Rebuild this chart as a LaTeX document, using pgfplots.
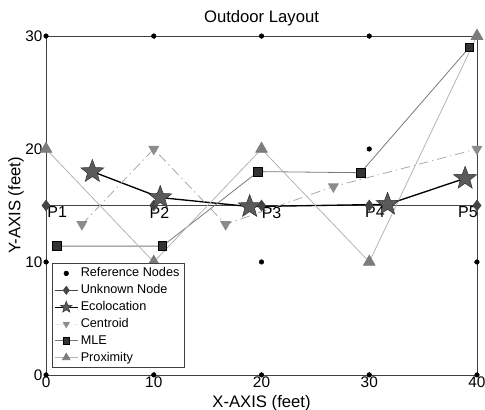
\documentclass[border=0pt]{standalone}
\usepackage{fontspec}
\setmainfont{Liberation Sans}
\usepackage{pgfplots}
\pgfplotsset{compat=1.18}

% filled five-pointed star
\pgfdeclareplotmark{fivestar}{%
  \pgfpathmoveto{\pgfpointpolar{90}{\pgfplotmarksize}}%
  \pgfpathlineto{\pgfpointpolar{126}{0.42\pgfplotmarksize}}%
  \pgfpathlineto{\pgfpointpolar{162}{\pgfplotmarksize}}%
  \pgfpathlineto{\pgfpointpolar{198}{0.42\pgfplotmarksize}}%
  \pgfpathlineto{\pgfpointpolar{234}{\pgfplotmarksize}}%
  \pgfpathlineto{\pgfpointpolar{270}{0.42\pgfplotmarksize}}%
  \pgfpathlineto{\pgfpointpolar{306}{\pgfplotmarksize}}%
  \pgfpathlineto{\pgfpointpolar{342}{0.42\pgfplotmarksize}}%
  \pgfpathlineto{\pgfpointpolar{18}{\pgfplotmarksize}}%
  \pgfpathlineto{\pgfpointpolar{54}{0.42\pgfplotmarksize}}%
  \pgfpathclose
  \pgfusepathqfillstroke
}

\definecolor{frame}{HTML}{404040}
\definecolor{unk}{HTML}{454545}
\definecolor{eco}{HTML}{5A5A5A}
\definecolor{cen}{HTML}{8C8C8C}
\definecolor{mle}{HTML}{333333}
\definecolor{mleline}{HTML}{7A7A7A}
\definecolor{prox}{HTML}{7C7C7C}
\definecolor{proxline}{HTML}{B4B4B4}

\begin{document}
\begin{tikzpicture}
\begin{axis}[
  scale only axis,
  width=323pt, height=254pt,
  xmin=0, xmax=40, ymin=0, ymax=30,
  xtick={0,10,20,30,40},
  ytick={0,10,20,30},
  tick align=inside,
  major tick length=2pt,
  tick style={frame},
  axis line style={frame, line width=0.6pt},
  ticklabel style={font=\fontsize{11.5}{13}\selectfont, inner sep=1pt},
  yticklabel style={xshift=-1.5pt},
  /pgf/number format/assume math mode=true,
  title={Outdoor Layout},
  title style={font=\fontsize{12.5}{14}\selectfont, inner sep=0pt, yshift=1pt},
  xlabel={X-AXIS (feet)},
  ylabel={Y-AXIS (feet)},
  label style={font=\fontsize{12.5}{14}\selectfont},
  xlabel style={inner sep=0pt, yshift=-5pt},
  ylabel style={inner sep=0pt, yshift=0pt},
  legend cell align=left,
  legend style={at={(0.014,0.02)}, anchor=south west,
    font=\fontsize{9.5}{10}\selectfont, draw=frame, line width=0.5pt,
    inner sep=1.5pt, row sep=0.3pt},
]

% Reference Nodes
\addplot[only marks, mark=*, mark size=1.7pt, black] coordinates {
(0,0) (10,0) (20,0) (30,0) (40,0)
(0,10) (10,10) (20,10) (30,10) (40,10)
(0,20) (10,20) (20,20) (30,20) (40,20)
(0,30) (10,30) (20,30) (30,30) (40,30)
};
\addlegendentry{Reference Nodes}

% Unknown Node
\addplot[color=unk, line width=0.5pt, mark=diamond*, mark size=4pt,
  mark options={fill=unk, draw=unk},
  legend image post style={mark size=3pt}] coordinates {
(0,15) (10,15) (20,15) (30,15) (40,15)
};
\addlegendentry{Unknown Node}

% Ecolocation
\addplot[color=black, line width=1pt, mark=fivestar, mark size=9pt,
  mark options={fill=eco, draw=black!80, line width=0.4pt},
  legend image post style={mark size=4.5pt, line width=0.7pt}] coordinates {
(4.3,18.0) (10.6,15.7) (18.9,14.9) (31.7,15.1) (38.9,17.4)
};
\addlegendentry{Ecolocation}

% Centroid
\addplot[color=cen!75, line width=0.6pt,
  dash pattern=on 7pt off 3pt on 1pt off 3pt,
  mark=triangle*, mark size=4.2pt,
  mark options={solid, rotate=180, fill=cen, draw=cen},
  legend image post style={mark size=3pt, draw opacity=0.25}] coordinates {
(3.33,13.33) (10,20) (16.67,13.33) (26.67,16.67) (40,20)
};
\addlegendentry{Centroid}

% MLE
\addplot[color=mleline, line width=0.6pt, mark=square*, mark size=3.3pt,
  mark options={fill=mle, draw=black},
  legend image post style={mark size=2.4pt}] coordinates {
(1.0,11.4) (10.8,11.4) (19.7,18.0) (29.2,17.9) (39.3,29.0)
};
\addlegendentry{MLE}

% Proximity
\addplot[color=proxline, line width=0.6pt, mark=triangle*, mark size=5pt,
  mark options={fill=prox, draw=prox},
  legend image post style={mark size=3.2pt}] coordinates {
(0,20) (10,10) (20,20) (30,10) (40,30)
};
\addlegendentry{Proximity}

\node[anchor=north west, inner sep=0pt, font=\fontsize{12}{14}\selectfont] at (axis cs:0.1,14.9) {P1};
\node[anchor=north west, inner sep=0pt, font=\fontsize{12}{14}\selectfont] at (axis cs:9.6,14.9) {P2};
\node[anchor=north west, inner sep=0pt, font=\fontsize{12}{14}\selectfont] at (axis cs:20.0,14.9) {P3};
\node[anchor=north west, inner sep=0pt, font=\fontsize{12}{14}\selectfont] at (axis cs:29.6,14.9) {P4};
\node[anchor=north east, inner sep=0pt, font=\fontsize{12}{14}\selectfont] at (axis cs:40.1,14.9) {P5};

\coordinate (bl) at (rel axis cs:0,0);
\coordinate (tr) at (rel axis cs:1,1);
\end{axis}
\pgfresetboundingbox
\path[use as bounding box] ([shift={(-34.5pt,-26pt)}]bl) rectangle ([shift={(6pt,27pt)}]tr);
\end{tikzpicture}
\end{document}
